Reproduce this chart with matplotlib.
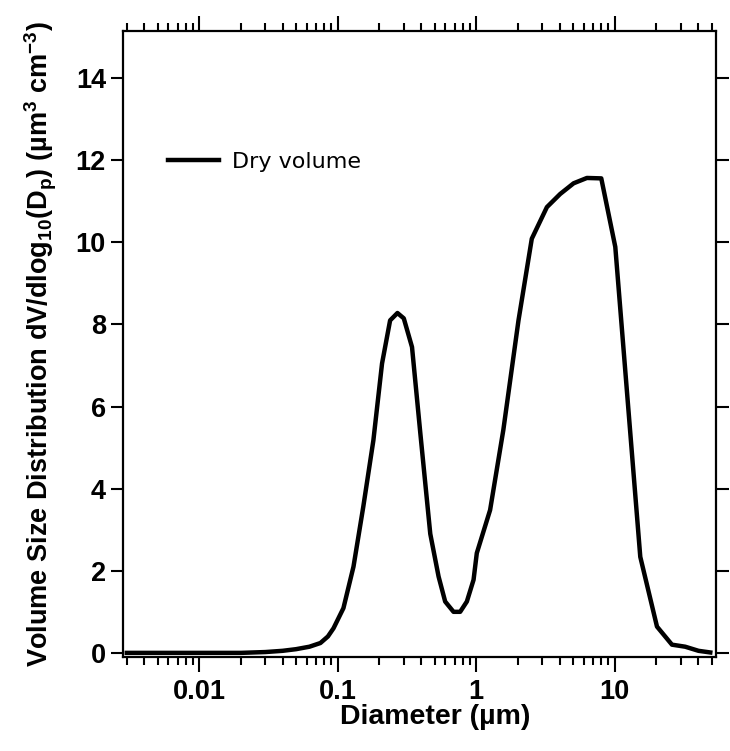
import matplotlib
matplotlib.use('Agg')
import matplotlib.pyplot as plt
from matplotlib.ticker import LogLocator, NullFormatter, FixedLocator

# dry volume size distribution
diameter_um = [0.003, 0.005, 0.01, 0.02, 0.03, 0.04, 0.05, 0.0625, 0.075,
               0.085, 0.0933, 0.110, 0.130, 0.153, 0.181, 0.209, 0.239,
               0.270, 0.300, 0.344, 0.395, 0.466, 0.535, 0.597, 0.686,
               0.766, 0.856, 0.957, 1.01, 1.26, 1.57, 2.02, 2.52, 3.24,
               4.04, 5.05, 6.30, 8.00, 10.1, 15.3, 20.2, 25.9, 32.3,
               40.3, 49.0]
dry_volume = [0.0, 0.0, 0.0, 0.0, 0.02, 0.05, 0.09, 0.15, 0.24,
              0.40, 0.60, 1.09, 2.10, 3.56, 5.18, 7.05, 8.10,
              8.28, 8.15, 7.45, 5.35, 2.90, 1.86, 1.25, 1.00,
              1.00, 1.25, 1.78, 2.43, 3.48, 5.43, 8.10, 10.09, 10.86,
              11.18, 11.44, 11.57, 11.56, 9.89, 2.34, 0.64, 0.20, 0.15,
              0.05, 0.01]

y_ticks = [0, 2, 4, 6, 8, 10, 12, 14]
x_tick_vals = [0.01, 0.1, 1, 10]
x_tick_labels = ['0.01', '0.1', '1', '10']

plt.rcParams['font.family'] = 'Liberation Sans'
plt.rcParams['mathtext.fontset'] = 'custom'
plt.rcParams['mathtext.rm'] = 'Liberation Sans'
plt.rcParams['mathtext.bf'] = 'Liberation Sans:bold'
plt.rcParams['mathtext.default'] = 'bf'

fig = plt.figure(figsize=(7.3, 7.51), dpi=100)
ax = fig.add_axes([0.168, 0.1252, 0.813, 0.8335])

ax.plot(diameter_um, dry_volume, color='black', lw=3.2, label='Dry volume',
        solid_joinstyle='round')

ax.set_xscale('log')
ax.set_xlim(0.0028, 54)
ax.set_ylim(-0.1, 15.15)

ax.xaxis.set_major_locator(FixedLocator(x_tick_vals))
ax.set_xticklabels(x_tick_labels)
ax.xaxis.set_minor_locator(LogLocator(base=10, subs=range(2, 10), numticks=20))
ax.xaxis.set_minor_formatter(NullFormatter())
ax.set_yticks(y_ticks)

for s in ax.spines.values():
    s.set_linewidth(1.6)

ax.tick_params(axis='x', which='major', direction='out', length=11,
               width=1.5, labelsize=19.5, pad=5)
ax.tick_params(axis='y', which='major', direction='out', length=9,
               width=1.5, labelsize=19.5, pad=3)
ax.tick_params(axis='x', which='minor', direction='out', length=5.5, width=1.5)
ax.tick_params(axis='x', which='both', top=True, labeltop=False)
ax.tick_params(axis='y', which='both', right=True, labelright=False)
ax.tick_params(axis='y', which='minor', left=False, right=False)
for lab in ax.get_xticklabels() + ax.get_yticklabels():
    lab.set_fontweight('bold')

ax.set_xlabel('Diameter (µm)', fontsize=20.5, fontweight='bold', labelpad=1)
ax.xaxis.set_label_coords(0.526, -0.075)
ax.set_ylabel(r'Volume Size Distribution dV/dlog$_{10}$(D$_p$) (µm$^3$ cm$^{-3}$)',
              fontsize=19.5, fontweight='bold', labelpad=12)

ax.legend(loc='center left', bbox_to_anchor=(0.0764, 0.791), frameon=False,
          prop={'family': 'DejaVu Sans', 'size': 16}, handlelength=2.3,
          handletextpad=0.6, borderpad=0, borderaxespad=0)

fig.savefig('out.png', dpi=100)
